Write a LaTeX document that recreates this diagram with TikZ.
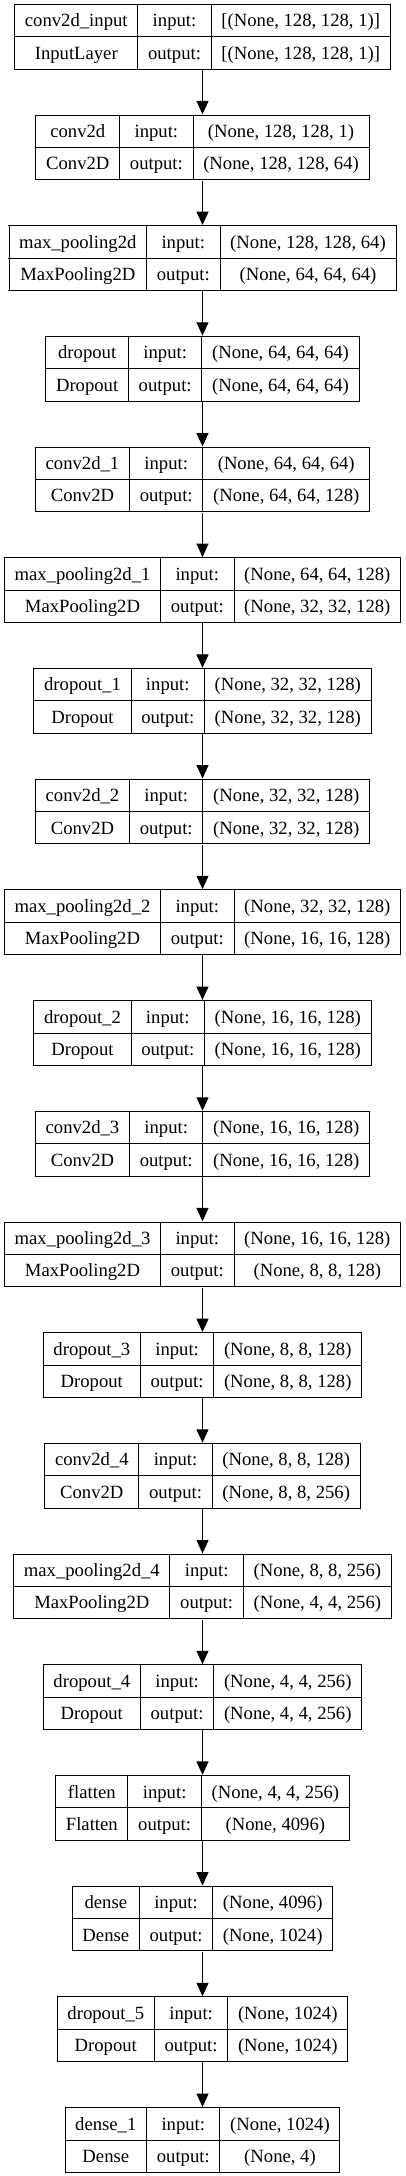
\documentclass[tikz,border=0pt]{standalone}
\usepackage{fontspec}
\setmainfont{Liberation Serif}
\usepackage{array}
\usetikzlibrary{arrows.meta}
\setlength{\tabcolsep}{7.3pt}
\setlength{\arrayrulewidth}{0.75pt}
\renewcommand{\arraystretch}{1.4}
\begin{document}
\begin{tikzpicture}[x=0.75pt, y=-0.75pt,
  layer/.style={inner sep=0pt, font=\fontsize{14}{16.8}\selectfont},
  flow/.style={-{Triangle[length=10pt, width=9pt]}, line width=0.75pt}]
\useasboundingbox (0,0) rectangle (405,2176);
\node[layer] (conv2d-input) at (202.5, 36.7) {\begin{tabular}{|c|c|c|}\hline
conv2d\_input & input: & [(None, 128, 128, 1)] \\\hline InputLayer & output: & [(None, 128, 128, 1)] \\\hline\end{tabular}};
\node[layer] (conv2d) at (202.5, 147.4) {\begin{tabular}{|c|c|c|}\hline
conv2d & input: & (None, 128, 128, 1) \\\hline Conv2D & output: & (None, 128, 128, 64) \\\hline\end{tabular}};
\node[layer] (max-pooling2d) at (202.5, 258.1) {\begin{tabular}{|c|c|c|}\hline
max\_pooling2d & input: & (None, 128, 128, 64) \\\hline MaxPooling2D & output: & (None, 64, 64, 64) \\\hline\end{tabular}};
\node[layer] (dropout) at (202.5, 368.8) {\begin{tabular}{|c|c|c|}\hline
dropout & input: & (None, 64, 64, 64) \\\hline Dropout & output: & (None, 64, 64, 64) \\\hline\end{tabular}};
\node[layer] (conv2d-1) at (202.5, 479.5) {\begin{tabular}{|c|c|c|}\hline
conv2d\_1 & input: & (None, 64, 64, 64) \\\hline Conv2D & output: & (None, 64, 64, 128) \\\hline\end{tabular}};
\node[layer] (max-pooling2d-1) at (202.5, 590.2) {\begin{tabular}{|c|c|c|}\hline
max\_pooling2d\_1 & input: & (None, 64, 64, 128) \\\hline MaxPooling2D & output: & (None, 32, 32, 128) \\\hline\end{tabular}};
\node[layer] (dropout-1) at (202.5, 700.9) {\begin{tabular}{|c|c|c|}\hline
dropout\_1 & input: & (None, 32, 32, 128) \\\hline Dropout & output: & (None, 32, 32, 128) \\\hline\end{tabular}};
\node[layer] (conv2d-2) at (202.5, 811.6) {\begin{tabular}{|c|c|c|}\hline
conv2d\_2 & input: & (None, 32, 32, 128) \\\hline Conv2D & output: & (None, 32, 32, 128) \\\hline\end{tabular}};
\node[layer] (max-pooling2d-2) at (202.5, 922.3) {\begin{tabular}{|c|c|c|}\hline
max\_pooling2d\_2 & input: & (None, 32, 32, 128) \\\hline MaxPooling2D & output: & (None, 16, 16, 128) \\\hline\end{tabular}};
\node[layer] (dropout-2) at (202.5, 1033.0) {\begin{tabular}{|c|c|c|}\hline
dropout\_2 & input: & (None, 16, 16, 128) \\\hline Dropout & output: & (None, 16, 16, 128) \\\hline\end{tabular}};
\node[layer] (conv2d-3) at (202.5, 1143.7) {\begin{tabular}{|c|c|c|}\hline
conv2d\_3 & input: & (None, 16, 16, 128) \\\hline Conv2D & output: & (None, 16, 16, 128) \\\hline\end{tabular}};
\node[layer] (max-pooling2d-3) at (202.5, 1254.4) {\begin{tabular}{|c|c|c|}\hline
max\_pooling2d\_3 & input: & (None, 16, 16, 128) \\\hline MaxPooling2D & output: & (None, 8, 8, 128) \\\hline\end{tabular}};
\node[layer] (dropout-3) at (202.5, 1365.1) {\begin{tabular}{|c|c|c|}\hline
dropout\_3 & input: & (None, 8, 8, 128) \\\hline Dropout & output: & (None, 8, 8, 128) \\\hline\end{tabular}};
\node[layer] (conv2d-4) at (202.5, 1475.8) {\begin{tabular}{|c|c|c|}\hline
conv2d\_4 & input: & (None, 8, 8, 128) \\\hline Conv2D & output: & (None, 8, 8, 256) \\\hline\end{tabular}};
\node[layer] (max-pooling2d-4) at (202.5, 1586.5) {\begin{tabular}{|c|c|c|}\hline
max\_pooling2d\_4 & input: & (None, 8, 8, 256) \\\hline MaxPooling2D & output: & (None, 4, 4, 256) \\\hline\end{tabular}};
\node[layer] (dropout-4) at (202.5, 1697.2) {\begin{tabular}{|c|c|c|}\hline
dropout\_4 & input: & (None, 4, 4, 256) \\\hline Dropout & output: & (None, 4, 4, 256) \\\hline\end{tabular}};
\node[layer] (flatten) at (202.5, 1807.9) {\begin{tabular}{|c|c|c|}\hline
flatten & input: & (None, 4, 4, 256) \\\hline Flatten & output: & (None, 4096) \\\hline\end{tabular}};
\node[layer] (dense) at (202.5, 1918.6) {\begin{tabular}{|c|c|c|}\hline
dense & input: & (None, 4096) \\\hline Dense & output: & (None, 1024) \\\hline\end{tabular}};
\node[layer] (dropout-5) at (202.5, 2029.3) {\begin{tabular}{|c|c|c|}\hline
dropout\_5 & input: & (None, 1024) \\\hline Dropout & output: & (None, 1024) \\\hline\end{tabular}};
\node[layer] (dense-1) at (202.5, 2140.0) {\begin{tabular}{|c|c|c|}\hline
dense\_1 & input: & (None, 1024) \\\hline Dense & output: & (None, 4) \\\hline\end{tabular}};
% edges
\draw[flow] (conv2d-input.south) -- (conv2d.north);
\draw[flow] (conv2d.south) -- (max-pooling2d.north);
\draw[flow] (max-pooling2d.south) -- (dropout.north);
\draw[flow] (dropout.south) -- (conv2d-1.north);
\draw[flow] (conv2d-1.south) -- (max-pooling2d-1.north);
\draw[flow] (max-pooling2d-1.south) -- (dropout-1.north);
\draw[flow] (dropout-1.south) -- (conv2d-2.north);
\draw[flow] (conv2d-2.south) -- (max-pooling2d-2.north);
\draw[flow] (max-pooling2d-2.south) -- (dropout-2.north);
\draw[flow] (dropout-2.south) -- (conv2d-3.north);
\draw[flow] (conv2d-3.south) -- (max-pooling2d-3.north);
\draw[flow] (max-pooling2d-3.south) -- (dropout-3.north);
\draw[flow] (dropout-3.south) -- (conv2d-4.north);
\draw[flow] (conv2d-4.south) -- (max-pooling2d-4.north);
\draw[flow] (max-pooling2d-4.south) -- (dropout-4.north);
\draw[flow] (dropout-4.south) -- (flatten.north);
\draw[flow] (flatten.south) -- (dense.north);
\draw[flow] (dense.south) -- (dropout-5.north);
\draw[flow] (dropout-5.south) -- (dense-1.north);
\end{tikzpicture}
\end{document}
